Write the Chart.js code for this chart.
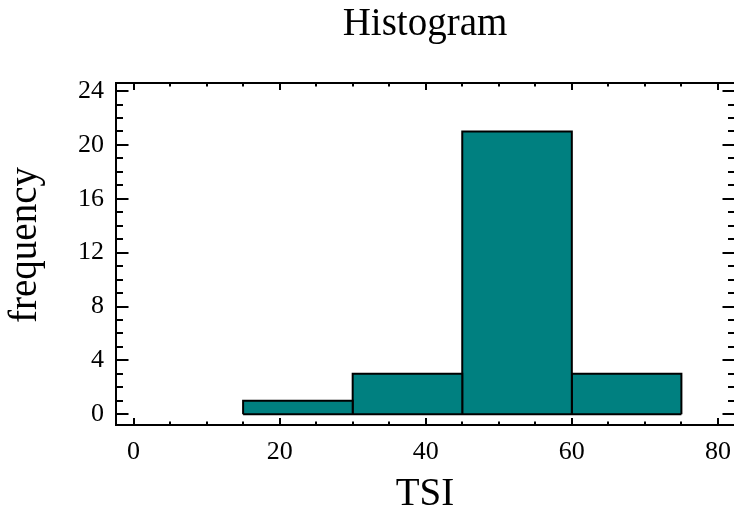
<!DOCTYPE html>
<html>
<head>
<meta charset="utf-8">
<script src="https://cdn.jsdelivr.net/npm/chart.js@4"></script>
<style>
  html, body { margin: 0; padding: 0; overflow: hidden; background: #fff; }
</style>
</head>
<body>
<canvas id="hist" width="734" height="516"></canvas>
<script>
// histogram data
const binEdges = [15, 30, 45, 60, 75];
const counts = [1, 3, 21, 3];
const xTicks = [0, 20, 40, 60, 80];
const yTicks = [0, 4, 8, 12, 16, 20, 24];
const xMinorStep = 5;
const yMinorStep = 1;

Chart.defaults.font.family = '"Liberation Serif", "Times New Roman", serif';
Chart.defaults.color = '#000';

// each bin is an outline filled down to zero
var datasets = counts.map((c, i) => ({
    data: [
        { x: binEdges[i], y: 0 },
        { x: binEdges[i], y: c },
        { x: binEdges[i + 1], y: c },
        { x: binEdges[i + 1], y: 0 }
    ],
    backgroundColor: '#008080',
    borderColor: '#000000',
    borderWidth: 2,
    borderJoinStyle: 'miter',
    fill: 'origin',
    pointRadius: 0,
    tension: 0
}));
// bottom edge of the bins
datasets.push({
    data: [{ x: binEdges[0], y: 0 }, { x: binEdges[binEdges.length - 1], y: 0 }],
    borderColor: '#000000',
    borderWidth: 2,
    fill: false,
    pointRadius: 0,
    order: -1
});

// box with inward ticks on all four sides, plus the y title
const framePlugin = {
    id: 'frame',
    afterDraw(chart) {
        const { ctx, chartArea: a, scales: { x, y } } = chart;
        // right side of the box sits just off the picture
        const right = Math.max(a.right, chart.width) + 1;
        ctx.save();
        ctx.strokeStyle = '#000';
        ctx.lineWidth = 2;
        ctx.strokeRect(a.left, a.top, right - a.left, a.bottom - a.top);

        ctx.beginPath();
        for (let v = Math.ceil(x.min / xMinorStep) * xMinorStep; v <= x.max; v += xMinorStep) {
            const px = Math.round(x.getPixelForValue(v));
            const len = xTicks.includes(v) ? 7 : 3.5;
            ctx.moveTo(px, a.bottom); ctx.lineTo(px, a.bottom - len);
            ctx.moveTo(px, a.top); ctx.lineTo(px, a.top + len);
        }
        for (let v = Math.ceil(y.min / yMinorStep) * yMinorStep; v <= y.max; v += yMinorStep) {
            const py = Math.round(y.getPixelForValue(v));
            const len = yTicks.includes(v) ? 12.5 : 7;
            ctx.moveTo(a.left, py); ctx.lineTo(a.left + len, py);
            ctx.moveTo(right, py); ctx.lineTo(right - len, py);
        }
        ctx.stroke();

        ctx.translate(25.5, 245);
        ctx.rotate(-Math.PI / 2);
        ctx.font = '39px "Liberation Serif", serif';
        ctx.fillStyle = '#000';
        ctx.textAlign = 'center';
        ctx.textBaseline = 'middle';
        ctx.fillText('frequency', 0, 0);
        ctx.restore();
    }
};

new Chart(document.getElementById('hist'), {
    type: 'line',
    data: { datasets: datasets },
    plugins: [framePlugin],
    options: {
        responsive: false,
        animation: false,
        layout: { padding: 0 },
        plugins: {
            legend: { display: false },
            tooltip: { enabled: false },
            title: {
                display: true,
                text: 'Histogram',
                fullSize: false,
                color: '#000',
                font: { size: 39, weight: 'normal', lineHeight: 1 },
                padding: { top: 5.5, bottom: 38.5 }
            }
        },
        scales: {
            x: {
                type: 'linear',
                min: -2.4,
                max: 82.2,
                grid: { display: false, drawTicks: false },
                border: { display: false },
                ticks: {
                    autoSkip: false,
                    maxRotation: 0,
                    padding: 14,
                    font: { size: 26, lineHeight: 1 }
                },
                title: {
                    display: true,
                    text: 'TSI',
                    font: { size: 39, lineHeight: 1 },
                    padding: { top: 0, bottom: 2 }
                },
                afterBuildTicks: (scale) => { scale.ticks = xTicks.map(v => ({ value: v })); },
                afterFit: (scale) => {
                    scale.height = 91;
                    scale.paddingLeft = 0;
                    scale.paddingRight = 0;
                }
            },
            y: {
                min: -0.8,
                max: 24.6,
                grid: { display: false, drawTicks: false },
                border: { display: false },
                ticks: {
                    autoSkip: false,
                    padding: 12,
                    font: { size: 26, lineHeight: 1 }
                },
                afterBuildTicks: (scale) => { scale.ticks = yTicks.map(v => ({ value: v })); },
                afterFit: (scale) => {
                    scale.width = 116;
                    scale.paddingTop = 0;
                    scale.paddingBottom = 0;
                }
            }
        }
    }
});
</script>
</body>
</html>
